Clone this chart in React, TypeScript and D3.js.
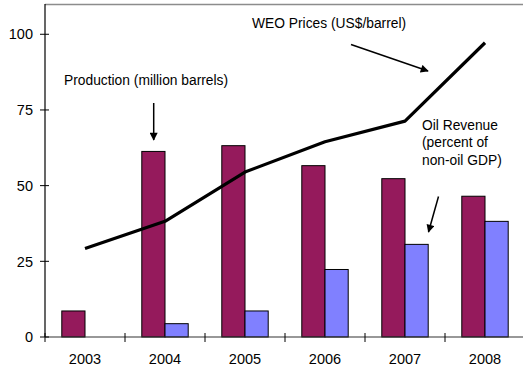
import React from "react";
import * as d3 from "d3";

// Annual series
const years = ["2003", "2004", "2005", "2006", "2007", "2008"];
const production = [8.6, 61.3, 63.2, 56.6, 52.3, 46.5]; // million barrels
const oilRevenue = [null, 4.4, 8.6, 22.3, 30.6, 38.2]; // percent of non-oil GDP
const weoPrices = [29.2, 38.2, 54.5, 64.5, 71.3, 97.2]; // US$/barrel
const yTicks = [0, 25, 50, 75, 100];

const W = 523;
const H = 370;
const margin = { left: 45, top: 4, right: 525, bottom: 337 };

const FONT = "Arial, 'Liberation Sans', sans-serif";
const PURPLE = "#951a5c";
const BLUE = "#8080ff";

export default function App() {
  const x = d3
    .scaleBand<string>()
    .domain(years)
    .range([margin.left, margin.right]);
  const y = d3.scaleLinear().domain([0, 110]).range([margin.bottom, margin.top]);

  const barW = x.bandwidth() * 0.29;
  const center = (yr: string) => (x(yr) as number) + x.bandwidth() / 2;

  const line = d3
    .line<number>()
    .x((_, i) => center(years[i]))
    .y((d) => y(d));

  return (
    <svg
      width={W}
      height={H}
      style={{ position: "absolute", left: 0, top: 0, background: "#fff" }}
      fontFamily={FONT}
    >
      <defs>
        <marker
          id="arrow"
          viewBox="0 0 10 10"
          refX="9"
          refY="5"
          markerWidth="9"
          markerHeight="8"
          markerUnits="userSpaceOnUse"
          orient="auto"
        >
          <path d="M0,0 L10,5 L0,10 z" fill="#000" />
        </marker>
      </defs>

      {/* frame */}
      <line x1={margin.left} x2={W} y1={margin.top + 0.5} y2={margin.top + 0.5} stroke="#8c8c8c" strokeWidth={1.3} />
      <line x1={margin.left} x2={margin.left} y1={margin.top} y2={margin.bottom} stroke="#000" strokeWidth={1.2} />

      {/* bars */}
      {years.map((yr, i) => (
        <g key={yr}>
          <rect
            x={center(yr) - barW}
            y={y(production[i])}
            width={barW}
            height={y(0) - y(production[i])}
            fill={PURPLE}
            stroke="#000"
            strokeWidth={1}
          />
          {oilRevenue[i] != null && (
            <rect
              x={center(yr)}
              y={y(oilRevenue[i] as number)}
              width={barW}
              height={y(0) - y(oilRevenue[i] as number)}
              fill={BLUE}
              stroke="#000"
              strokeWidth={1}
            />
          )}
        </g>
      ))}

      {/* price line */}
      <path
        d={line(weoPrices) as string}
        fill="none"
        stroke="#000"
        strokeWidth={3.2}
        strokeLinejoin="round"
      />

      {/* x axis */}
      <line x1={margin.left} x2={W} y1={margin.bottom} y2={margin.bottom} stroke="#333" strokeWidth={1.2} />
      {years.map((yr) => (
        <line
          key={"t" + yr}
          x1={x(yr) as number}
          x2={x(yr) as number}
          y1={margin.bottom - 4}
          y2={margin.bottom + 5}
          stroke="#000"
        />
      ))}
      {years.map((yr) => (
        <text key={"l" + yr} x={center(yr)} y={364} textAnchor="middle" fontSize={14.5} fill="#000">
          {yr}
        </text>
      ))}

      {/* y axis */}
      {yTicks.map((t) => (
        <g key={"y" + t}>
          <line x1={margin.left - 5} x2={margin.left + 4} y1={y(t)} y2={y(t)} stroke="#000" />
          <text x={33} y={y(t)} dy="0.36em" textAnchor="end" fontSize={14.5} fill="#000">
            {t}
          </text>
        </g>
      ))}

      {/* annotations */}
      <text x={64} y={85} fontSize={13.8} fill="#000">
        Production (million barrels)
      </text>
      <line x1={153.7} y1={103} x2={153.7} y2={140} stroke="#000" strokeWidth={1.5} markerEnd="url(#arrow)" />

      <text x={252} y={28} fontSize={13.8} fill="#000">
        WEO Prices (US$/barrel)
      </text>
      <line x1={351} y1={44.5} x2={428} y2={71} stroke="#000" strokeWidth={1.5} markerEnd="url(#arrow)" />

      <text x={422} y={130} fontSize={13.8} fill="#000">
        <tspan x={422}>Oil Revenue</tspan>
        <tspan x={422} dy={17}>(percent of</tspan>
        <tspan x={422} dy={17.5}>non-oil GDP)</tspan>
      </text>
      <line x1={438.5} y1={196.5} x2={428.5} y2={232} stroke="#000" strokeWidth={1.5} markerEnd="url(#arrow)" />
    </svg>
  );
}
